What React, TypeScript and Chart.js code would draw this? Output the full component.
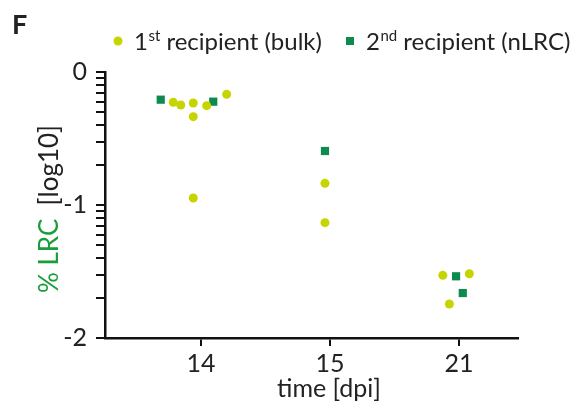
import React, { useEffect, useRef } from 'react';
import { Chart, registerables } from 'chart.js';

Chart.register(...registerables);

// ---- data ----
const categories = ['14', '15', '21'];

// 1st recipient (bulk) – circles
const bulkGroup = [0, 0, 0, 0, 0, 0, 0, 1, 1, 2, 2, 2];
const bulkJitter = [-0.215, -0.157, -0.06, -0.06, 0.044, 0.199, -0.06, -0.039, -0.039, -0.126, 0.08, -0.075];
const bulkValues = [-0.228, -0.248, -0.233, -0.336, -0.253, -0.168, -0.947, -0.837, -1.133, -1.529, -1.517, -1.744];

// 2nd recipient (nLRC) – squares
const nlrcGroup = [0, 0, 1, 2, 2];
const nlrcJitter = [-0.312, 0.095, -0.039, -0.023, 0.029];
const nlrcValues = [-0.208, -0.223, -0.594, -1.536, -1.662];

const yMajorTicks = [-2, -1, 0];
const legendLabels = [
  { main: '1', sup: 'st', rest: ' recipient (bulk)' },
  { main: '2', sup: 'nd', rest: ' recipient (nLRC)' },
];

const BULK_COLOR = '#c6d400';
const NLRC_COLOR = '#0d8a4e';
const TITLE_GREEN = '#1a9e3a';
const FONT = 'Lato, "Open Sans", sans-serif';

function yTickValues(): number[] {
  const vals: number[] = [];
  for (let i = 0; i < yMajorTicks.length - 1; i++) {
    const d = yMajorTicks[i];
    vals.push(d);
    for (let k = 2; k <= 9; k++) vals.push(d + Math.log10(k));
  }
  vals.push(yMajorTicks[yMajorTicks.length - 1]);
  return vals;
}

const decorPlugin = {
  id: 'decor',
  afterDraw(chart: any) {
    const ctx = chart.ctx as CanvasRenderingContext2D;
    ctx.save();
    // panel letter
    ctx.fillStyle = '#222';
    ctx.font = `bold 27px ${FONT}`;
    ctx.textBaseline = 'alphabetic';
    ctx.textAlign = 'left';
    ctx.fillText('F', 12, 34);

    // legend
    const drawEntry = (startX: number, lab: { main: string; sup: string; rest: string }) => {
      let x = startX;
      const base = 50;
      ctx.fillStyle = '#222';
      ctx.font = `24px ${FONT}`;
      ctx.fillText(lab.main, x, base);
      x += ctx.measureText(lab.main).width + 0.5;
      ctx.font = `15px ${FONT}`;
      ctx.fillText(lab.sup, x, base - 9);
      x += ctx.measureText(lab.sup).width;
      ctx.font = `24px ${FONT}`;
      ctx.fillText(lab.rest, x, base);
    };
    ctx.fillStyle = BULK_COLOR;
    ctx.beginPath();
    ctx.arc(118, 41, 4.5, 0, Math.PI * 2);
    ctx.fill();
    drawEntry(134, legendLabels[0]);
    ctx.fillStyle = NLRC_COLOR;
    ctx.fillRect(346, 37, 8, 8);
    drawEntry(366, legendLabels[1]);

    // y title (two colours)
    ctx.save();
    ctx.translate(50, 209);
    ctx.rotate(-Math.PI / 2);
    ctx.font = `26px ${FONT}`;
    ctx.textBaseline = 'middle';
    const p1 = '% LRC';
    const p2 = '  [log10]';
    const w1 = ctx.measureText(p1).width;
    const w2 = ctx.measureText(p2).width;
    const sx = -(w1 + w2) / 2;
    ctx.fillStyle = TITLE_GREEN;
    ctx.fillText(p1, sx, 0);
    ctx.fillStyle = '#222';
    ctx.fillText(p2, sx + w1, 0);
    ctx.restore();

    // x title
    ctx.font = `25px ${FONT}`;
    ctx.fillStyle = '#222';
    ctx.textAlign = 'center';
    ctx.textBaseline = 'middle';
    ctx.fillText('time [dpi]', 329, 389);
    ctx.restore();
  },
};

export default function App() {
  const ref = useRef<HTMLCanvasElement | null>(null);

  useEffect(() => {
    if (!ref.current) return;
    const bulkData = bulkValues.map((v, i) => ({ x: bulkGroup[i] + bulkJitter[i], y: v }));
    const nlrcData = nlrcValues.map((v, i) => ({ x: nlrcGroup[i] + nlrcJitter[i], y: v }));
    const chart = new Chart(ref.current, {
      type: 'scatter',
      data: {
        datasets: [
          {
            label: '1st recipient (bulk)',
            data: bulkData,
            pointStyle: 'circle',
            pointRadius: 4.5,
            pointHoverRadius: 4.5,
            backgroundColor: BULK_COLOR,
            borderWidth: 0,
          },
          {
            label: '2nd recipient (nLRC)',
            data: nlrcData,
            pointStyle: 'rect',
            pointRadius: 5.8,
            pointHoverRadius: 5.8,
            backgroundColor: NLRC_COLOR,
            borderWidth: 0,
          },
        ],
      },
      options: {
        animation: false,
        responsive: false,
        devicePixelRatio: 1,
        events: [],
        layout: { padding: { left: 0, right: 56, top: 72, bottom: 0 } },
        plugins: { legend: { display: false }, tooltip: { enabled: false } },
        scales: {
          x: {
            type: 'linear',
            min: -0.744,
            max: 2.457,
            afterBuildTicks: (s: any) => {
              s.ticks = categories.map((_, i) => ({ value: i }));
            },
            afterFit: (s: any) => {
              s.height = 69;
            },
            ticks: {
              autoSkip: false,
              maxRotation: 0,
              padding: 3,
              color: '#222',
              font: { family: FONT, size: 25 },
              callback: (v: any) => categories[Math.round(Number(v))] ?? '',
            },
            grid: { drawOnChartArea: false, drawTicks: true, tickLength: 8, color: '#111', lineWidth: 2 },
            border: { display: true, color: '#111', width: 2.5 },
          },
          y: {
            type: 'linear',
            min: -2,
            max: 0,
            afterBuildTicks: (s: any) => {
              s.ticks = yTickValues().map((v) => ({ value: v }));
            },
            afterFit: (s: any) => {
              s.width = 105;
            },
            ticks: {
              autoSkip: false,
              padding: 9,
              color: '#222',
              font: { family: FONT, size: 25 },
              callback: (v: any) => {
                const n = Number(v);
                return Math.abs(n - Math.round(n)) < 1e-9 ? String(Math.round(n)) : '';
              },
            },
            grid: { drawOnChartArea: false, drawTicks: true, tickLength: 9, color: '#111', lineWidth: 2 },
            border: { display: true, color: '#111', width: 2.5 },
          },
        },
      },
      plugins: [decorPlugin],
    } as any);
    return () => chart.destroy();
  }, []);

  return (
    <div style={{ position: 'fixed', left: 0, top: 0, width: 574, height: 407, background: '#fff' }}>
      <canvas ref={ref} width={574} height={407} />
    </div>
  );
}
